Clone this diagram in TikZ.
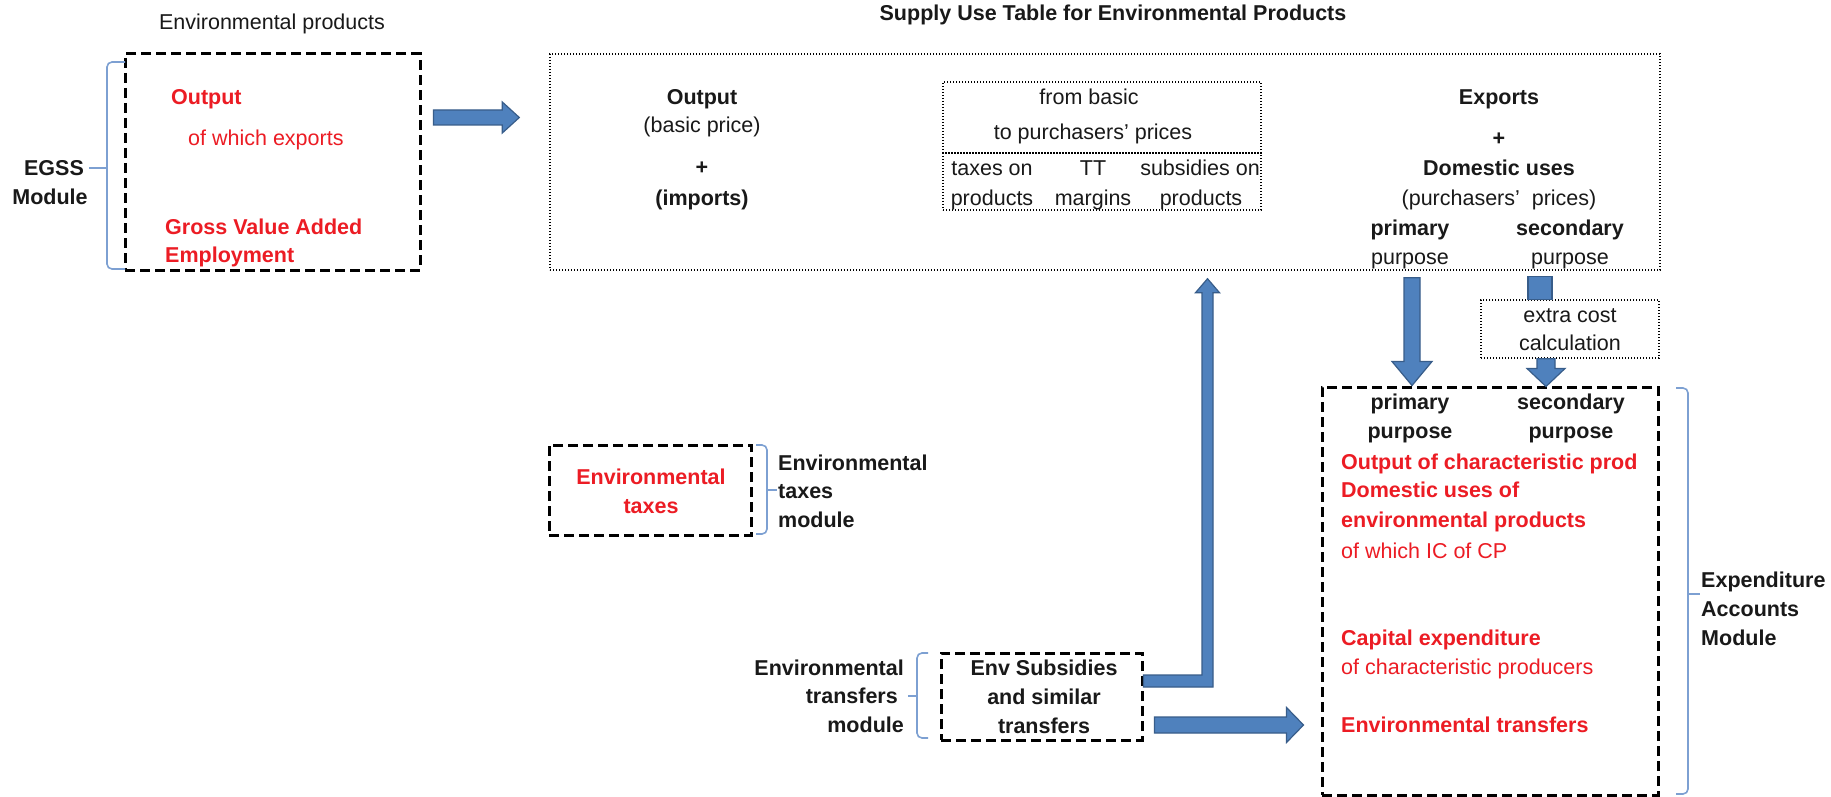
\documentclass[tikz,border=0pt]{standalone}
\usepackage{fontspec}
\setmainfont{Liberation Sans}
\usetikzlibrary{calc}
\definecolor{arrowfill}{RGB}{79,129,189}
\definecolor{arrowline}{RGB}{56,93,138}
\definecolor{bracecol}{RGB}{125,160,210}
\definecolor{redtxt}{RGB}{236,28,36}
\definecolor{inktxt}{RGB}{25,25,25}
\newcommand\txtsize{\fontsize{21.5}{26}\selectfont}
% block arrow: #1 start, #2 tip, #3 half shaft, #4 half head, #5 head length
\newcommand\blockarrow[5]{%
  \coordinate (ba-base) at ($(#2)!#5!(#1)$);
  \draw[barrow] ($(#1)!#3!90:(#2)$)
    -- ($(ba-base)!#3!-90:(#1)$)
    -- ($(ba-base)!#4!-90:(#1)$)
    -- (#2)
    -- ($(ba-base)!#4!90:(#1)$)
    -- ($(ba-base)!#3!90:(#1)$)
    -- ($(#1)!#3!-90:(#2)$) -- cycle;}
\tikzset{
  lbl/.style={inner sep=0pt, text height=15pt, text depth=0pt, font=\txtsize, text=inktxt},
  hb/.style={font=\txtsize\bfseries},
  rd/.style={text=redtxt},
  dashbox/.style={draw=black, line width=3pt, dash pattern=on 10pt off 5pt, inner sep=0pt},
  dotbox/.style={draw=black, line width=1.4pt, dash pattern=on 1.4pt off 1.6pt, inner sep=0pt},
  barrow/.style={fill=arrowfill, draw=arrowline, line width=1.2pt, line join=miter},
  bracket/.style={draw=bracecol, line width=1.6pt, rounded corners=5pt},
}
\begin{document}
\begin{tikzpicture}[x=1pt,y=-1pt]
\useasboundingbox (0,0) rectangle (1831,797);
\fill[white] (0,0) rectangle (1831,797);

% ---------- titles
\node[lbl] (envprod) at (272,22) {Environmental products};
\node[lbl,hb] (suttitle) at (1113,13) {Supply Use Table for Environmental Products};

% ---------- EGSS module
\node[dashbox, minimum width=295pt, minimum height=216pt] (egss) at (272.5,162) {};
\node[lbl,hb,rd,anchor=west] (egss1) at (171,97) {Output};
\node[lbl,rd,anchor=west] (egss2) at (188,138) {of which exports};
\node[lbl,hb,rd,anchor=west] (egss3) at (165,227) {Gross Value Added};
\node[lbl,hb,rd,anchor=west] (egss4) at (165,255) {Employment};
\node[lbl,hb] (egssname1) at (54,168) {EGSS};
\node[lbl,hb] (egssname2) at (50,197) {Module};
\draw[bracket] (125,62) -| (107,269) -- (125,269);
\draw[bracket] (107,168) -- (89,168);

% ---------- supply use table
\node[dotbox, minimum width=1110pt, minimum height=216pt] (sut) at (1105,162) {};
\node[lbl,hb] (sup1) at (702,97) {Output};
\node[lbl] (sup2) at (702,125) {(basic price)};
\node[lbl,hb] (sup3) at (702,167) {+};
\node[lbl,hb] (sup4) at (702,198) {(imports)};

\node[dotbox, minimum width=318pt, minimum height=71pt] (conv) at (1102,117.5) {};
\node[dotbox, minimum width=318pt, minimum height=57pt] (convlow) at (1102,181.5) {};
\node[lbl] (conv1) at (1089,97) {from basic};
\node[lbl] (conv2) at (1093,132) {to purchasers' prices};
\node[lbl] (tax1) at (992,168) {taxes on};
\node[lbl] (tax2) at (992,198) {products};
\node[lbl] (tt1) at (1093,168) {TT};
\node[lbl] (tt2) at (1093,198) {margins};
\node[lbl] (subp1) at (1200,168) {subsidies on};
\node[lbl] (subp2) at (1201,198) {products};

\node[lbl,hb] (use1) at (1499,97) {Exports};
\node[lbl,hb] (use2) at (1499,138) {+};
\node[lbl,hb] (use3) at (1499,168) {Domestic uses};
\node[lbl] (use4) at (1499,198) {(purchasers'\ \ prices)};
\node[lbl,hb] (usep1) at (1410,228) {primary};
\node[lbl] (usep2) at (1410,257) {purpose};
\node[lbl,hb] (uses1) at (1570,228) {secondary};
\node[lbl] (uses2) at (1570,257) {purpose};

% ---------- extra cost step
\node[dotbox, minimum width=178pt, minimum height=58pt] (extra) at (1570,329) {};
\node[lbl] (extra1) at (1570,315) {extra cost};
\node[lbl] (extra2) at (1570,343) {calculation};

% ---------- expenditure accounts module
\node[dashbox, minimum width=336pt, minimum height=408pt] (expbox) at (1490,591) {};
\node[lbl,hb] (expp1) at (1410,402) {primary};
\node[lbl,hb] (expp2) at (1410,431) {purpose};
\node[lbl,hb] (exps1) at (1571,402) {secondary};
\node[lbl,hb] (exps2) at (1571,431) {purpose};
\node[lbl,hb,rd,anchor=west] (exp1) at (1341,462) {Output of characteristic prod};
\node[lbl,hb,rd,anchor=west] (exp2) at (1341,490) {Domestic uses of};
\node[lbl,hb,rd,anchor=west] (exp3) at (1341,520) {environmental products};
\node[lbl,rd,anchor=west] (exp4) at (1341,551) {of which IC of CP};
\node[lbl,hb,rd,anchor=west] (exp5) at (1341,638) {Capital expenditure};
\node[lbl,rd,anchor=west] (exp6) at (1341,667) {of characteristic producers};
\node[lbl,hb,rd,anchor=west] (exp7) at (1341,725) {Environmental transfers};
\draw[bracket] (1676,388) -| (1688,794) -- (1676,794);
\draw[bracket] (1688,594) -- (1700,594);
\node[lbl,hb,anchor=west] (expname1) at (1701,580) {Expenditure};
\node[lbl,hb,anchor=west] (expname2) at (1701,609) {Accounts};
\node[lbl,hb,anchor=west] (expname3) at (1701,638) {Module};

% ---------- environmental taxes module
\node[dashbox, minimum width=202pt, minimum height=90pt] (taxbox) at (650,490) {};
\node[lbl,hb,rd] (taxb1) at (651,477) {Environmental};
\node[lbl,hb,rd] (taxb2) at (651,506) {taxes};
\draw[bracket] (756,445) -| (767,534) -- (756,534);
\draw[bracket] (767,490) -- (777,490);
\node[lbl,hb,anchor=west] (taxname1) at (778,463) {Environmental};
\node[lbl,hb,anchor=west] (taxname2) at (778,491) {taxes};
\node[lbl,hb,anchor=west] (taxname3) at (778,520) {module};

% ---------- environmental transfers module
\node[dashbox, minimum width=201pt, minimum height=87pt] (subbox) at (1041.5,696.5) {};
\node[lbl,hb] (subb1) at (1044,668) {Env Subsidies};
\node[lbl,hb] (subb2) at (1044,697) {and similar};
\node[lbl,hb] (subb3) at (1044,726) {transfers};
\draw[bracket] (928,653) -| (917,738) -- (928,738);
\draw[bracket] (917,696) -- (908,696);
\node[lbl,hb,anchor=east] (trname1) at (904,668) {Environmental};
\node[lbl,hb,anchor=east] (trname2) at (898,696) {transfers};
\node[lbl,hb,anchor=east] (trname3) at (904,725) {module};

% ---------- flows
\coordinate (a1s) at ($(egss.east)+(12,-44.5)$);
\coordinate (a1t) at ($(sut.west)+(-30,-44.5)$);
\blockarrow{a1s}{a1t}{7.5pt}{15.5pt}{17pt}

\coordinate (a2s) at ($(sut.south)+(307,7)$);
\coordinate (a2t) at ($(expbox.north)+(-78,0)$);
\blockarrow{a2s}{a2t}{8pt}{20pt}{24pt}

\draw[barrow] ($(extra.north)+(-42,-23)$) rectangle ($(extra.north)+(-18,0)$);
\coordinate (a3s) at ($(extra.south)+(-24,0)$);
\coordinate (a3t) at ($(expbox.north)+(56,1)$);
\blockarrow{a3s}{a3t}{9pt}{19pt}{18pt}

\coordinate (a4s) at ($(subbox.east)+(0,-15.5)$);
\coordinate (a4t) at ($(sut.south)+(102.5,8)$);
\draw[barrow] ($(a4s)+(0,-6)$) -- ($(a4t |- a4s)+(-5.5,-6)$) -- ($(a4t)+(-5.5,14)$)
  -- ($(a4t)+(-12,14)$) -- (a4t) -- ($(a4t)+(12,14)$) -- ($(a4t)+(5.5,14)$)
  -- ($(a4t |- a4s)+(5.5,6)$) -- ($(a4s)+(0,6)$) -- cycle;

\coordinate (a5s) at ($(subbox.east)+(11,28.5)$);
\coordinate (a5t) at ($(expbox.west)+(-17,134)$);
\blockarrow{a5s}{a5t}{8pt}{17.5pt}{17pt}
\end{tikzpicture}
\end{document}
